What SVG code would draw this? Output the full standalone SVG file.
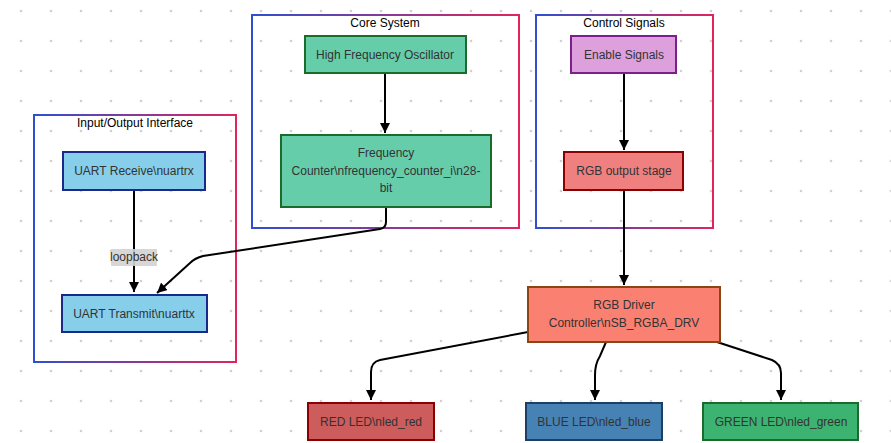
<svg xmlns="http://www.w3.org/2000/svg" width="891" height="443" viewBox="0 0 891 443">
<defs>
<pattern id="dots" x="6" y="-4" width="30" height="30" patternUnits="userSpaceOnUse">
<circle cx="15" cy="15" r="1.3" fill="#d0d0d0"/>
</pattern>
<linearGradient id="cg" x1="0" y1="0" x2="1" y2="0">
<stop offset="0" stop-color="#2f4fd0"/>
<stop offset="1" stop-color="#e0245e"/>
</linearGradient>
<marker id="arr" viewBox="0 0 10 10" refX="10" refY="5" markerWidth="10" markerHeight="10" markerUnits="userSpaceOnUse" orient="auto">
<path d="M0,0 L10,5 L0,10 z" fill="#000"/>
</marker>
</defs>
<style>
.cl{fill:none;stroke:url(#cg);stroke-width:2}
.ct{font-family:"Liberation Sans",Arial,sans-serif;font-size:12px;fill:#000;text-anchor:middle}
.nt{font-family:"Liberation Sans",Arial,sans-serif;font-size:12px;fill:#333;text-anchor:middle}
.n{stroke-width:2}
.e{fill:none;stroke:#000;stroke-width:2;marker-end:url(#arr)}
</style>
<rect width="891" height="443" fill="#fff"/>
<rect width="891" height="443" fill="url(#dots)"/>

<g id="cluster-io">
<rect class="cl" x="34" y="115" width="202" height="247"/>
<text class="ct" x="135" y="127">Input/Output Interface</text>
</g>
<g id="cluster-core">
<rect class="cl" x="252" y="15" width="267" height="213"/>
<text class="ct" x="385" y="27">Core System</text>
</g>
<g id="cluster-ctrl">
<rect class="cl" x="536" y="15" width="177" height="213"/>
<text class="ct" x="624" y="27">Control Signals</text>
</g>

<g id="connectors">
<path class="e" d="M134,190 L134,292"/>
<path class="e" d="M385,73 L385,133"/>
<path class="e" d="M386,207 L386,222 Q386,228 380,229 L203,256 Q195,258 190,263 L157,293"/>
<path class="e" d="M624,73 L624,150"/>
<path class="e" d="M624,190 L624,285"/>
<path class="e" d="M528,332 L380,360 Q371,362 371,372 L371,400"/>
<path class="e" d="M606,342 L600,356 Q595,364 595,375 L595,400"/>
<path class="e" d="M717,342 L772,360 Q781,364 781,373 L781,400"/>
<rect x="111" y="249" width="46" height="17" fill="#d3d3d3" opacity="0.9"/>
<text class="nt" x="134" y="261">loopback</text>
</g>

<g id="uart-rx">
<rect class="n" x="63" y="152" width="142" height="38" fill="#87ceeb" stroke="#1a2a8a"/>
<text class="nt" x="134" y="175">UART Receive\nuartrx</text>
</g>
<g id="uart-tx">
<rect class="n" x="62" y="295" width="145" height="37" fill="#87ceeb" stroke="#1a2a8a"/>
<text class="nt" x="134" y="318">UART Transmit\nuarttx</text>
</g>
<g id="hfosc">
<rect class="n" x="305" y="36" width="161" height="37" fill="#66cdaa" stroke="#1b6b2a"/>
<text class="nt" x="385" y="59">High Frequency Oscillator</text>
</g>
<g id="freq-counter">
<rect class="n" x="281" y="135" width="210" height="72" fill="#66cdaa" stroke="#1b6b2a"/>
<text class="nt" x="386" y="157">Frequency</text>
<text class="nt" x="386" y="175">Counter\nfrequency_counter_i\n28-</text>
<text class="nt" x="386" y="192">bit</text>
</g>
<g id="enable">
<rect class="n" x="571" y="36" width="105" height="37" fill="#dda0dd" stroke="#7b1f8a"/>
<text class="nt" x="624" y="59">Enable Signals</text>
</g>
<g id="rgb-out">
<rect class="n" x="564" y="152" width="119" height="38" fill="#f08080" stroke="#8b0000"/>
<text class="nt" x="624" y="175">RGB output stage</text>
</g>
<g id="rgb-driver">
<rect class="n" x="528" y="287" width="192" height="55" fill="#fa8072" stroke="#8b4513"/>
<text class="nt" x="624" y="309">RGB Driver</text>
<text class="nt" x="624" y="327">Controller\nSB_RGBA_DRV</text>
</g>
<g id="led-red">
<rect class="n" x="308" y="403" width="126" height="37" fill="#cd5c5c" stroke="#8b0000"/>
<text class="nt" x="371" y="426">RED LED\nled_red</text>
</g>
<g id="led-blue">
<rect class="n" x="526" y="403" width="136" height="37" fill="#4682b4" stroke="#1c3f66"/>
<text class="nt" x="594" y="426">BLUE LED\nled_blue</text>
</g>
<g id="led-green">
<rect class="n" x="703" y="403" width="155" height="37" fill="#3cb371" stroke="#1b6b2a"/>
<text class="nt" x="781" y="426">GREEN LED\nled_green</text>
</g>
</svg>
